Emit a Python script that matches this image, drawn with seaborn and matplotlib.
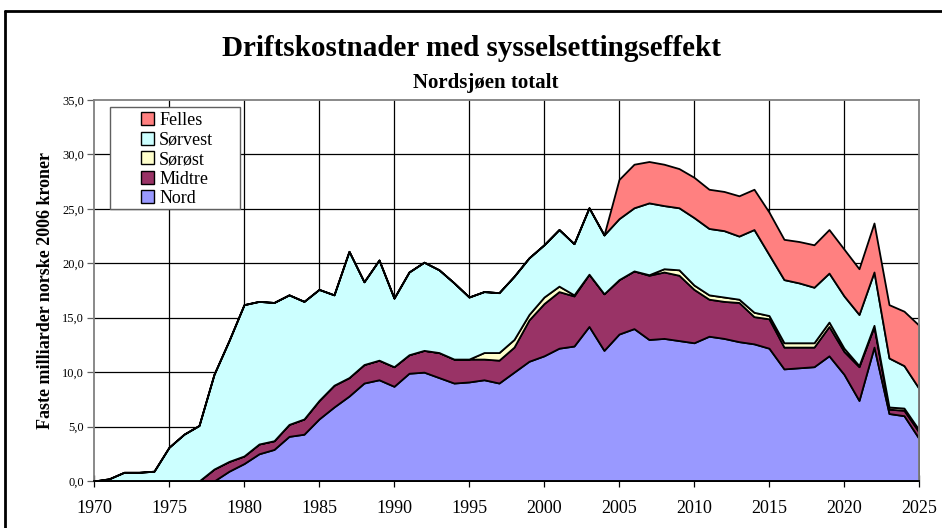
import numpy as np
import pandas as pd
import seaborn as sns
import matplotlib.pyplot as plt
from matplotlib.patches import Patch, Rectangle
from matplotlib.lines import Line2D
from matplotlib.ticker import FuncFormatter

# data (milliarder 2006-kroner)
years = list(range(1970, 2026))

nord = [0, 0, 0, 0, 0, 0, 0, 0, 0, 0.9,
        1.6, 2.5, 2.9, 4.1, 4.3, 5.7, 6.8, 7.8, 9.0, 9.3,
        8.7, 9.9, 10.0, 9.5, 9.0, 9.1, 9.3, 9.0, 10.0, 11.0,
        11.5, 12.2, 12.4, 14.2, 12.0, 13.5, 14.0, 13.0, 13.1, 12.9,
        12.7, 13.3, 13.1, 12.8, 12.6, 12.2, 10.3, 10.4, 10.5, 11.5,
        9.8, 7.4, 12.3, 6.2, 6.0, 3.9]

midtre = [0, 0, 0, 0, 0, 0, 0, 0, 1.1, 0.9,
          0.7, 0.9, 0.8, 1.1, 1.4, 1.7, 2.0, 1.7, 1.7, 1.8,
          1.8, 1.7, 2.0, 2.3, 2.2, 2.1, 1.9, 2.1, 2.3, 3.8,
          4.8, 5.2, 4.6, 4.8, 5.2, 5.0, 5.3, 5.9, 6.1, 6.0,
          4.9, 3.4, 3.4, 3.6, 2.5, 2.7, 2.0, 1.9, 1.8, 2.7,
          2.1, 3.1, 1.9, 0.4, 0.5, 0.6]

sorost = [0, 0, 0, 0, 0, 0, 0, 0, 0, 0,
          0, 0, 0, 0, 0, 0, 0, 0, 0, 0,
          0, 0, 0, 0, 0, 0, 0.6, 0.7, 0.7, 0.5,
          0.6, 0.5, 0.1, 0, 0, 0, 0, 0.05, 0.3, 0.5,
          0.4, 0.4, 0.4, 0.3, 0.4, 0.3, 0.4, 0.4, 0.4, 0.4,
          0.3, 0.1, 0.1, 0.2, 0.2, 0.2]

sorvest = [0, 0.2, 0.8, 0.8, 0.9, 3.1, 4.3, 5.1, 8.7, 11.1,
           13.9, 13.1, 12.7, 11.9, 10.8, 10.2, 8.3, 11.6, 7.6, 9.2,
           6.3, 7.6, 8.1, 7.6, 7.0, 5.7, 5.6, 5.5, 5.8, 5.2,
           4.8, 5.2, 4.7, 6.1, 5.4, 5.6, 5.8, 6.6, 5.8, 5.7,
           6.2, 6.1, 6.1, 5.8, 7.6, 5.6, 5.8, 5.5, 5.1, 4.5,
           4.8, 4.7, 4.9, 4.5, 3.9, 3.8]

felles = [0] * 35 + [3.6, 4.0, 3.8, 3.8, 3.6,
                     3.7, 3.6, 3.6, 3.7, 3.7, 3.9, 3.7, 3.8, 3.9, 4.0,
                     4.3, 4.2, 4.5, 4.9, 5.0, 5.8]

series = ["Nord", "Midtre", "Sørøst", "Sørvest", "Felles"]
colors = ["#9999FF", "#993366", "#FFFFCC", "#CCFFFF", "#FF8080"]

df = pd.DataFrame({"År": years, "Nord": nord, "Midtre": midtre,
                   "Sørøst": sorost, "Sørvest": sorvest, "Felles": felles})

sns.set_theme(style="white")
plt.rcParams["font.family"] = ["Liberation Serif", "DejaVu Serif"]
plt.rcParams["text.color"] = "black"
plt.rcParams["axes.labelcolor"] = "black"
plt.rcParams["xtick.color"] = "black"
plt.rcParams["ytick.color"] = "black"

fig = plt.figure(figsize=(9.42, 5.28), dpi=100)
ax = fig.add_axes([94 / 942, 1 - 481 / 528, 825 / 942, 381 / 528])

ax.stackplot(df["År"], [df[s] for s in series], colors=colors,
             edgecolor="black", linewidth=1.3, zorder=3)

ax.set_xlim(1970, 2025)
ax.set_ylim(0, 35)
ax.set_xticks(range(1970, 2026, 5))
ax.set_yticks(np.arange(0, 36, 5))
ax.yaxis.set_major_formatter(FuncFormatter(lambda v, p: f"{v:.1f}".replace(".", ",")))

# gridlines behind the areas
for y in range(5, 35, 5):
    ax.axhline(y, color="black", lw=0.9, zorder=1)
for x in range(1975, 2025, 5):
    ax.axvline(x, color="black", lw=0.9, zorder=1)

for side in ["top", "right", "left"]:
    ax.spines[side].set_color("#808080")
    ax.spines[side].set_linewidth(1.3)
ax.spines["bottom"].set_color("black")
ax.spines["bottom"].set_linewidth(1.3)
for sp in ax.spines.values():
    sp.set_zorder(5)

ax.tick_params(axis="y", direction="out", length=5, width=0.9, color="#606060",
               labelsize=9, pad=2, left=True)
ax.tick_params(axis="x", direction="inout", length=9, width=0.9, color="black",
               labelsize=13, pad=9, bottom=True)

ax.set_ylabel("Faste milliarder norske 2006 kroner", fontsize=13,
              fontweight="bold", labelpad=6)
ax.set_xlabel("")

fig.text(0.5, 1 - 49 / 528, "Driftskostnader med sysselsettingseffekt",
         ha="center", va="center", fontsize=21, fontweight="bold")
fig.text(486 / 942, 1 - 83 / 528, "Nordsjøen totalt", ha="center", va="center",
         fontsize=15, fontweight="bold")

# legend frame drawn separately to get the wide Excel-style box
fig.add_artist(Rectangle((110 / 942, 1 - 209 / 528), 130 / 942, 102 / 528,
                         transform=fig.transFigure, facecolor="white",
                         edgecolor="#606060", lw=1.0, zorder=8))
handles = [Patch(facecolor=c, edgecolor="black", linewidth=1.0, label=s)
           for s, c in zip(series[::-1], colors[::-1])]
leg = ax.legend(handles=handles, loc="upper left",
                bbox_to_anchor=(141 / 942, 1 - 112 / 528),
                bbox_transform=fig.transFigure, fontsize=13,
                frameon=False, handlelength=0.7, handleheight=0.7,
                handletextpad=0.3, labelspacing=0.14, borderpad=0,
                borderaxespad=0)
leg.set_zorder(10)
fig.add_artist(leg)

# outer chart border (left and top)
fig.add_artist(Line2D([5 / 942, 5 / 942], [0, 1 - 11 / 528], color="black",
                      lw=2, transform=fig.transFigure))
fig.add_artist(Line2D([5 / 942, 1], [1 - 11 / 528, 1 - 11 / 528], color="black",
                      lw=2, transform=fig.transFigure))

fig.savefig("out.png", dpi=100, facecolor="white")
